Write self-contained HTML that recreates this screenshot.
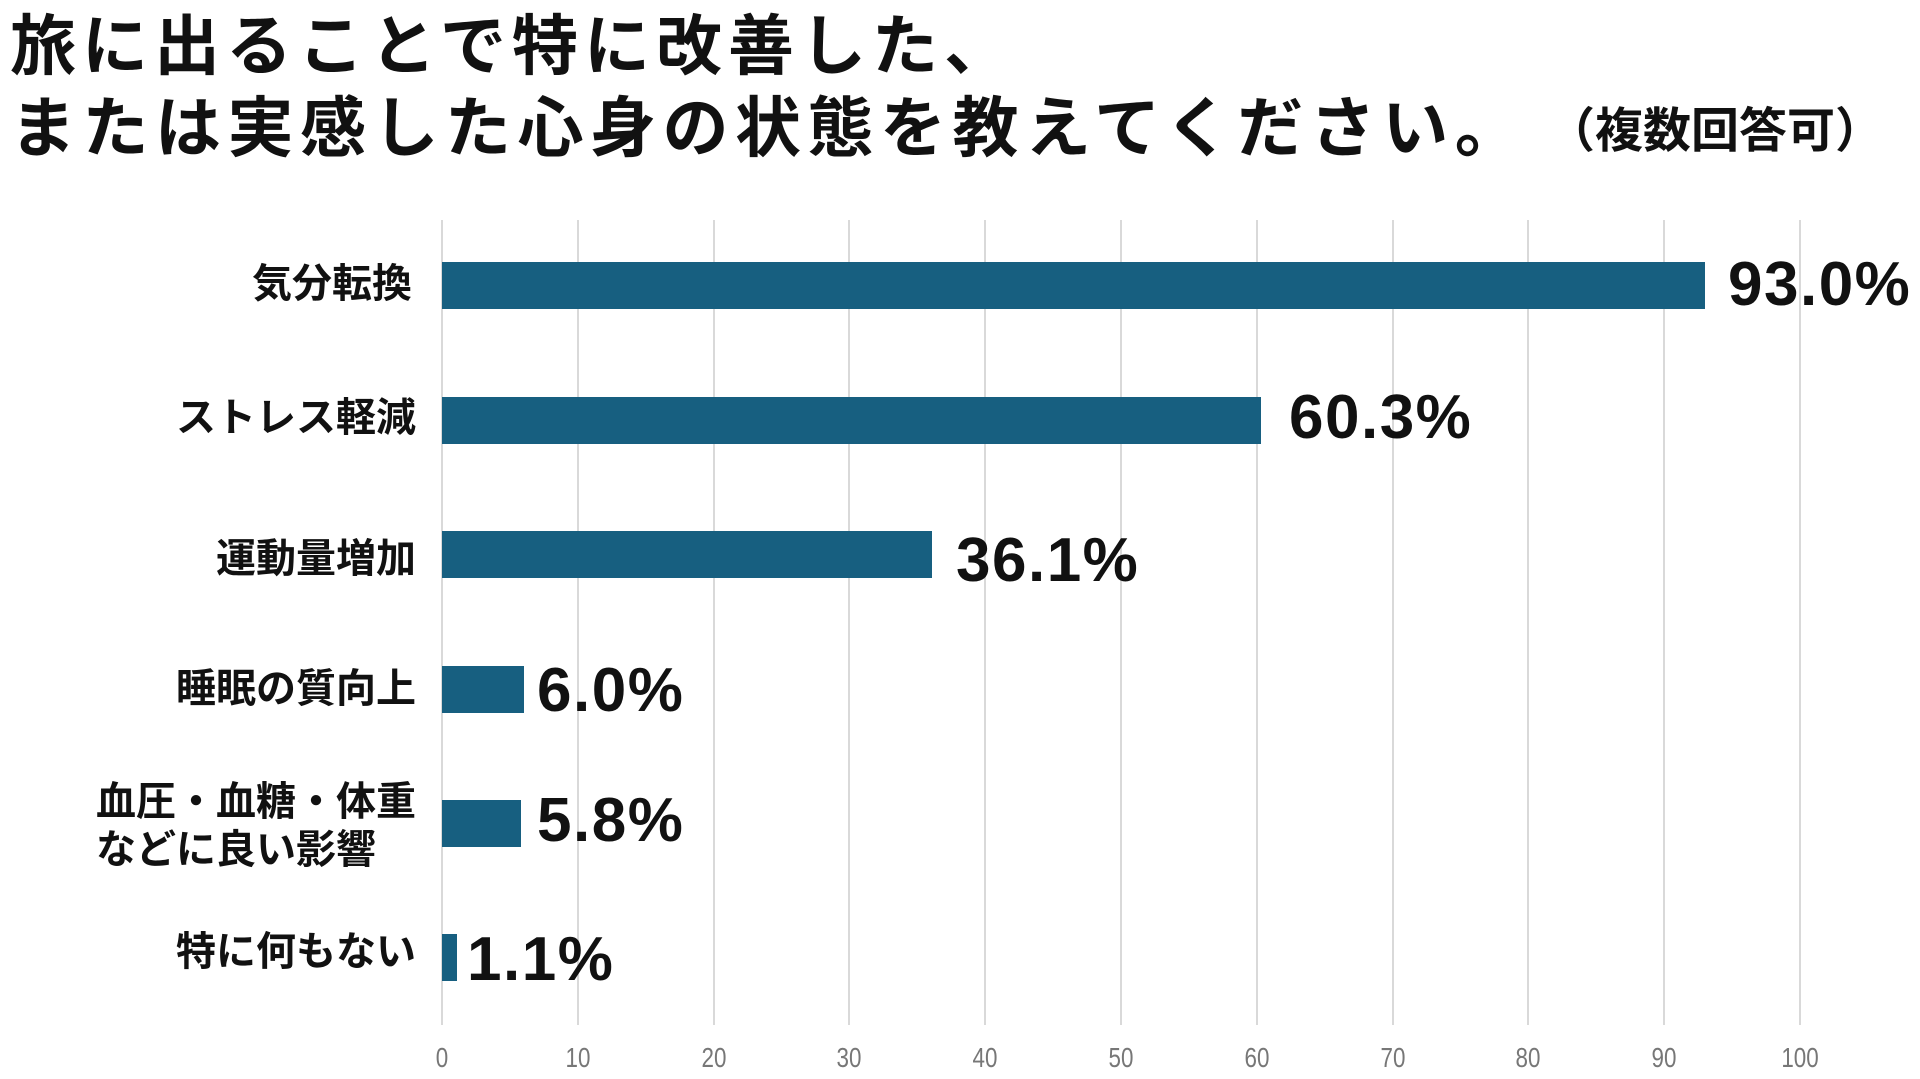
<!DOCTYPE html>
<html><head><meta charset="utf-8"><style>
body{margin:0;width:1920px;height:1079px;background:#fff;overflow:hidden;position:relative;font-family:"Liberation Sans","Noto Sans CJK JP",sans-serif;}
.t{position:absolute;white-space:nowrap;color:#111;}
.g{position:absolute;top:220px;height:805px;width:2px;background:#d9d9d9;}
.b{position:absolute;left:442px;height:47px;background:#175f80;}
.l{position:absolute;right:1504px;font-size:40px;font-weight:bold;color:#111;text-align:right;white-space:nowrap;line-height:48px;}
.v{position:absolute;font-size:62px;font-weight:bold;color:#111;white-space:nowrap;line-height:62px;letter-spacing:1.5px;}
.k{position:absolute;top:1042px;font-size:28px;color:#777;width:60px;text-align:center;transform:scaleX(0.8);}
</style></head><body>
<div class="t" style="left:10px;top:8px;font-size:66px;font-weight:bold;letter-spacing:6px;line-height:76px;">旅に出ることで特に改善した、</div>
<div class="t" style="left:10px;top:90px;font-size:66px;font-weight:bold;letter-spacing:6.5px;line-height:76px;">または実感した心身の状態を教えてください。</div>
<div class="t" style="left:1547px;top:102px;font-size:48px;font-weight:bold;line-height:60px;">（複数回答可）</div>

<div class="g" style="left:441px"></div><div class="g" style="left:577px"></div><div class="g" style="left:713px"></div><div class="g" style="left:848px"></div><div class="g" style="left:984px"></div><div class="g" style="left:1120px"></div><div class="g" style="left:1256px"></div><div class="g" style="left:1392px"></div><div class="g" style="left:1527px"></div><div class="g" style="left:1663px"></div><div class="g" style="left:1799px"></div>

<div class="k" style="left:412px">0</div><div class="k" style="left:548px">10</div><div class="k" style="left:684px">20</div><div class="k" style="left:819px">30</div><div class="k" style="left:955px">40</div><div class="k" style="left:1091px">50</div><div class="k" style="left:1227px">60</div><div class="k" style="left:1363px">70</div><div class="k" style="left:1498px">80</div><div class="k" style="left:1634px">90</div><div class="k" style="left:1770px">100</div>

<div class="b" style="top:262px;width:1263px"></div>
<div class="b" style="top:397px;width:819px"></div>
<div class="b" style="top:531px;width:490px"></div>
<div class="b" style="top:666px;width:82px"></div>
<div class="b" style="top:800px;width:79px"></div>
<div class="b" style="top:934px;width:15px"></div>

<div class="v" style="left:1728px;top:254px">93.0%</div>
<div class="v" style="left:1289px;top:387px">60.3%</div>
<div class="v" style="left:956px;top:530px">36.1%</div>
<div class="v" style="left:537px;top:660px">6.0%</div>
<div class="v" style="left:537px;top:790px">5.8%</div>
<div class="v" style="left:467px;top:929px">1.1%</div>

<div class="l" style="top:260px;right:1508px">気分転換</div>
<div class="l" style="top:394px">ストレス軽減</div>
<div class="l" style="top:535px">運動量増加</div>
<div class="l" style="top:665px">睡眠の質向上</div>
<div class="l" style="top:778px;text-align:left;left:96px;right:auto;">血圧・血糖・体重<br>などに良い影響</div>
<div class="l" style="top:928px">特に何もない</div>
</body></html>
